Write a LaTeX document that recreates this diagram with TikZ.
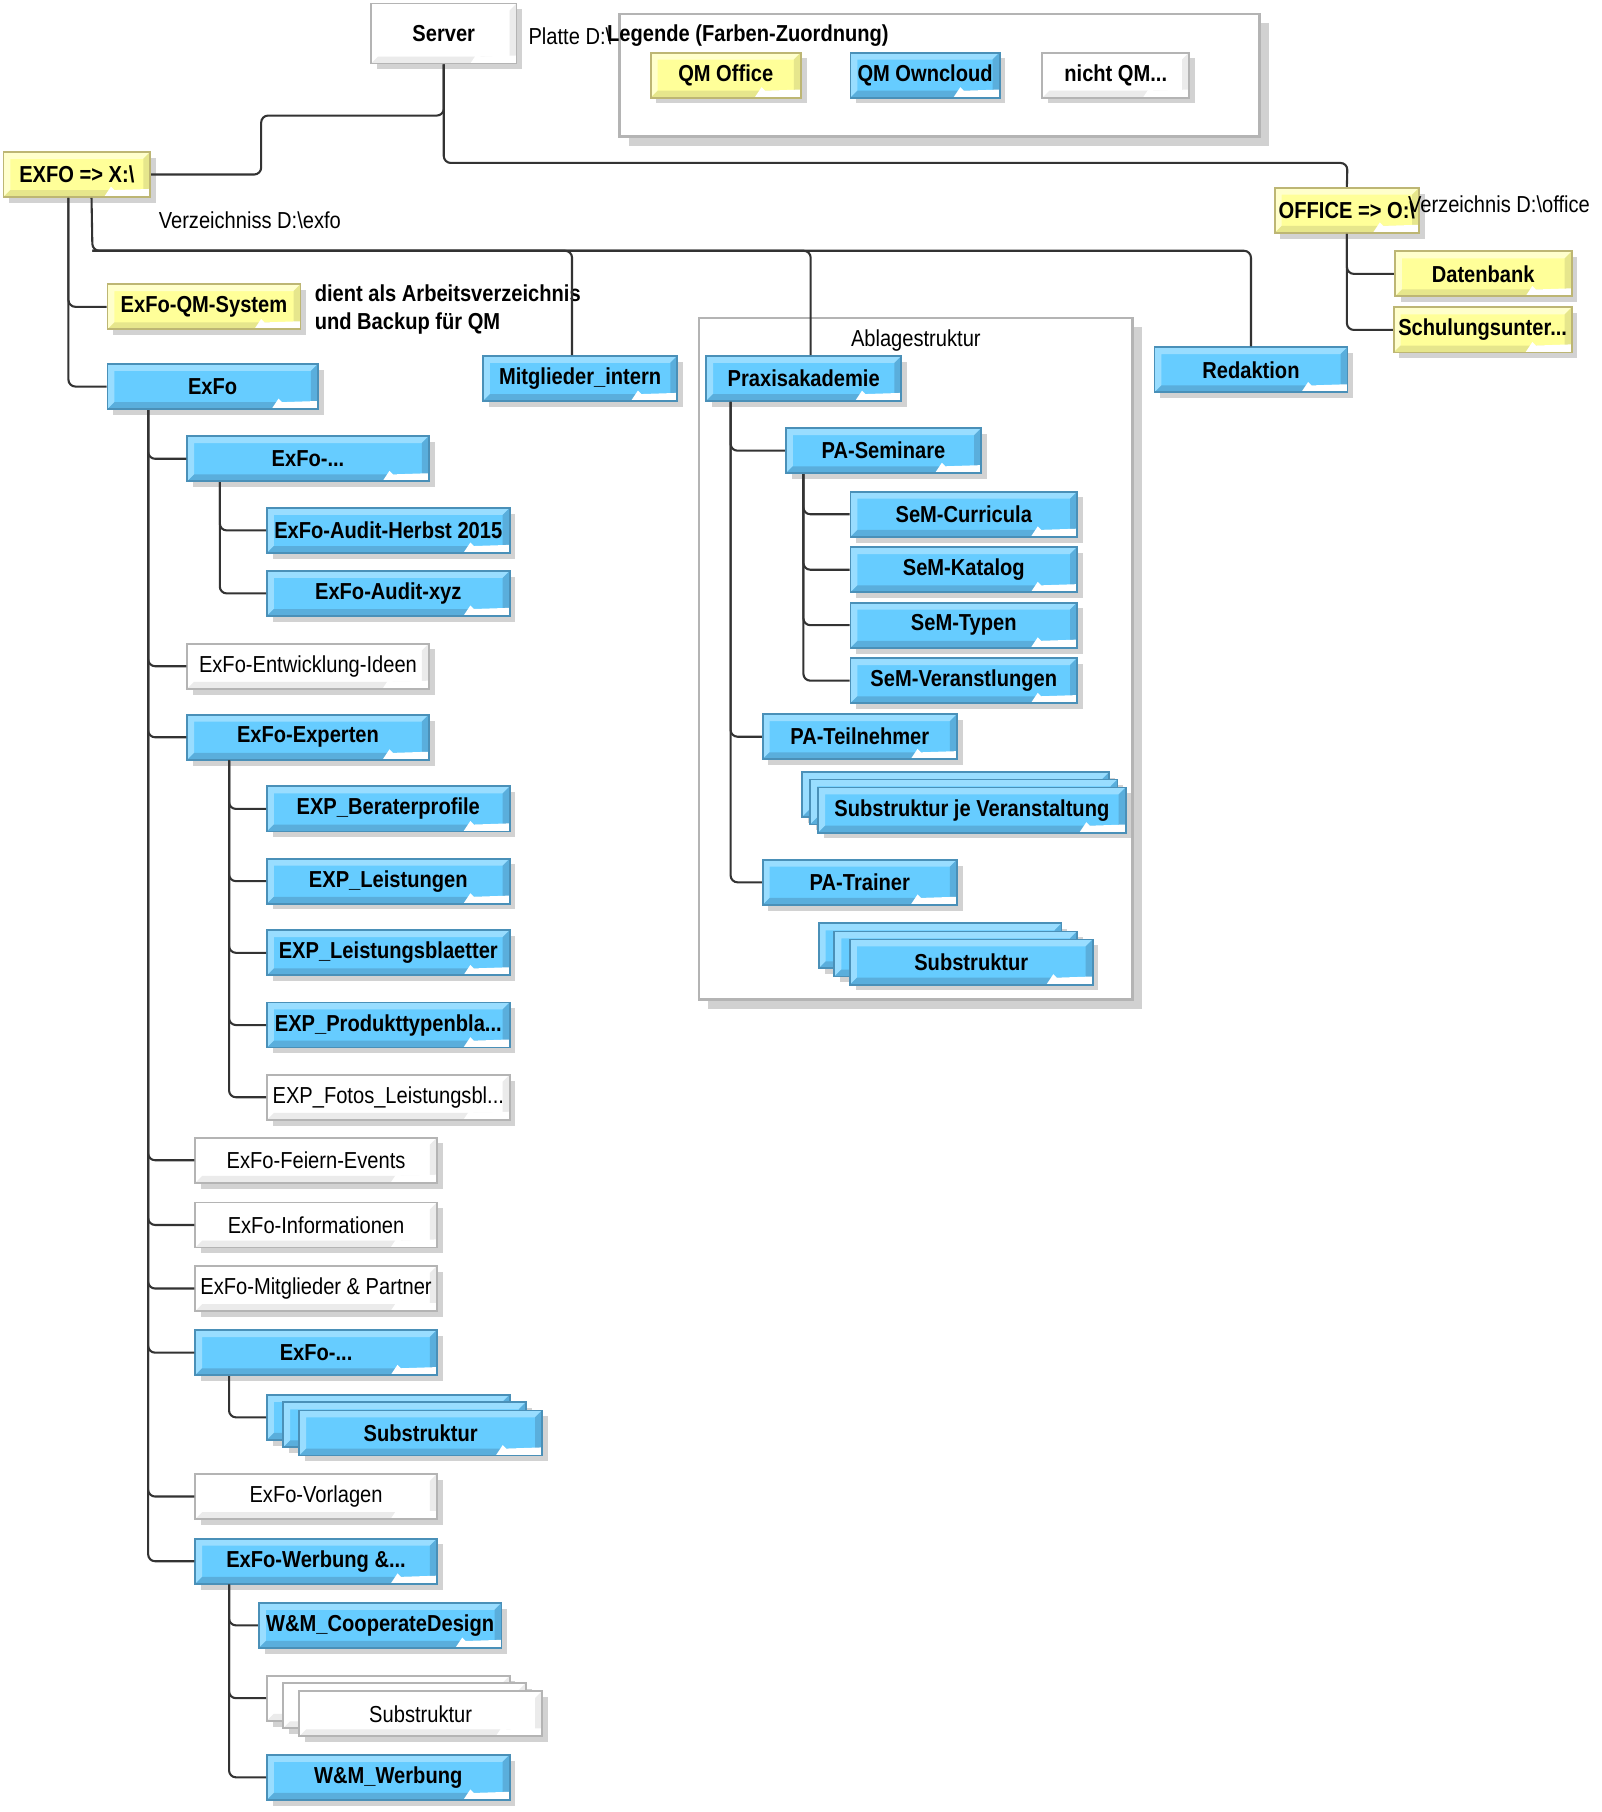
\documentclass[tikz,border=0pt]{standalone}
\usepackage{fontspec}
\setmainfont[FakeStretch=0.87]{Liberation Sans}
\usetikzlibrary{shadows}

\definecolor{qmblue}{HTML}{66CCFF}
\definecolor{qmbluelight}{HTML}{99DDFF}
\definecolor{qmbluedark}{HTML}{5AAEDC}
\definecolor{qmblueline}{HTML}{4A90B8}
\definecolor{qmyellow}{HTML}{FFFF99}
\definecolor{qmyellowlight}{HTML}{FFFFCC}
\definecolor{qmyellowdark}{HTML}{E6E68C}
\definecolor{qmyellowline}{HTML}{BDB674}
\definecolor{plainline}{HTML}{B4B4B4}
\definecolor{plaindark}{HTML}{EBEBEB}
\definecolor{conncol}{HTML}{333333}

% bevel + folded corner of a folder box
\newcommand{\bevel}[2]{%
  \fill[#1] (path picture bounding box.north west) -- (path picture bounding box.north east)
    -- ([xshift=-3pt,yshift=-3pt]path picture bounding box.north east)
    -- ([xshift=3pt,yshift=-3pt]path picture bounding box.north west)
    -- ([xshift=3pt,yshift=3pt]path picture bounding box.south west)
    -- (path picture bounding box.south west) -- cycle;
  \fill[#2] (path picture bounding box.south east) -- (path picture bounding box.north east)
    -- ([xshift=-3pt,yshift=-3pt]path picture bounding box.north east)
    -- ([xshift=-3pt,yshift=3pt]path picture bounding box.south east)
    -- ([xshift=3pt,yshift=3pt]path picture bounding box.south west)
    -- (path picture bounding box.south west) -- cycle;
  \fill[white] ([xshift=-20pt]path picture bounding box.south east)
    -- ([xshift=-17pt,yshift=4.5pt]path picture bounding box.south east)
    -- ([xshift=-15.5pt,yshift=3pt]path picture bounding box.south east)
    -- ([yshift=3.5pt]path picture bounding box.south east)
    -- (path picture bounding box.south east) -- cycle;
}

\begin{document}
\begin{tikzpicture}[x=0.5pt,y=-0.5pt]
  \tikzstyle{folder}=[rectangle, line width=0.8pt, minimum height=19.5pt, inner sep=1pt,
    font=\bfseries, drop shadow={shadow xshift=2.5pt, shadow yshift=-2.5pt, fill=black!35, opacity=0.5}]
  \tikzstyle{cloudbox}=[folder, fill=qmblue, draw=qmblueline, path picture={\bevel{qmbluelight}{qmbluedark}}]
  \tikzstyle{officebox}=[folder, fill=qmyellow, draw=qmyellowline, path picture={\bevel{qmyellowlight}{qmyellowdark}}]
  \tikzstyle{plainbox}=[folder, font=\normalfont, fill=white, draw=plainline, path picture={\bevel{white}{plaindark}}]
  \tikzstyle{frame}=[rectangle, draw=plainline, line width=1pt, fill=white,
    drop shadow={shadow xshift=4pt, shadow yshift=-4pt, fill=black!30, opacity=0.6}]
  \tikzstyle{note}=[inner sep=0pt, anchor=west]
  \tikzstyle{conn}=[draw=conncol, line width=0.9pt, rounded corners=3pt]

  \useasboundingbox (0,0) rectangle (1386,1568);

  % frames
  \node[frame, minimum width=277pt, minimum height=53pt] (legende) at (813,65) {};
  \node[frame, minimum width=187.5pt, minimum height=295pt] (ablage) at (792.5,570) {};

  % server and legend
  \node[plainbox, font=\bfseries, minimum width=63pt, minimum height=26pt] (server) at (384,29) {Server};
  \node[note] (platte) at (457,31) {Platte D:\textbackslash};
  \node[note, font=\bfseries] (legtitel) at (525,31) {Legende (Farben-Zuordnung)};
  \node[officebox, minimum width=65pt] (qmoffice) at (628,65) {QM Office};
  \node[cloudbox, minimum width=64.5pt] (qmcloud) at (800.5,65) {QM Owncloud};
  \node[plainbox, font=\bfseries, minimum width=63.5pt] (nichtqm) at (965.5,65) {nicht QM...};

  % drives
  \node[officebox, minimum width=63.5pt] (exfo) at (66.5,151) {EXFO => X:\textbackslash};
  \node[officebox, minimum width=62.5pt] (office) at (1165.5,182) {OFFICE => O:\textbackslash};
  \node[note] (officedir) at (1218,177) {Verzeichnis D:\textbackslash office};
  \node[officebox, minimum width=76.5pt] (datenbank) at (1283.5,237) {Datenbank};
  \node[officebox, minimum width=77pt] (schulung) at (1283,285.5) {Schulungsunter...};
  \node[cloudbox, minimum width=83.5pt] (redaktion) at (1082.5,320) {Redaktion};

  \node[note] (exfodir) at (137,191) {Verzeichniss D:\textbackslash exfo};
  \node[officebox, minimum width=83.5pt] (qmsystem) at (176.5,265.5) {ExFo-QM-System};
  \node[note, font=\bfseries, align=left, anchor=north west] (qmnote) at (272,246) {dient als Arbeitsverzeichnis\\ und Backup für QM};
  \node[cloudbox, minimum width=91pt] (exfonode) at (184,334.5) {ExFo};
  \node[cloudbox, minimum width=84pt] (mitglieder) at (502,327.5) {Mitglieder\_intern};

  % Praxisakademie
  \node[note] (ablagetitel) at (736,295) {Ablagestruktur};
  \node[cloudbox, minimum width=84.5pt] (praxis) at (695.5,327.5) {Praxisakademie};
  \node[cloudbox, minimum width=84.5pt] (seminare) at (764.5,390) {PA-Seminare};
  \node[cloudbox, minimum width=98pt] (curricula) at (834,445) {SeM-Curricula};
  \node[cloudbox, minimum width=98pt] (katalog) at (834,493) {SeM-Katalog};
  \node[cloudbox, minimum width=98pt] (typen) at (834,541) {SeM-Typen};
  \node[cloudbox, minimum width=98pt] (veranst) at (834,589) {SeM-Veranstlungen};
  \node[cloudbox, minimum width=84pt] (teilnehmer) at (744,637.5) {PA-Teilnehmer};
  \node[cloudbox, minimum width=133pt] (subVa) at (827,687.5) {};
  \node[cloudbox, minimum width=133pt] (subVb) at (834,694) {};
  \node[cloudbox, minimum width=133pt] (subVc) at (841,701) {Substruktur je Veranstaltung};
  \node[cloudbox, minimum width=84pt] (trainer) at (744,763.5) {PA-Trainer};
  \node[cloudbox, minimum width=105pt] (subTa) at (813.5,818.5) {};
  \node[cloudbox, minimum width=105pt] (subTb) at (827,825.5) {};
  \node[cloudbox, minimum width=105pt] (subTc) at (840.5,832.5) {Substruktur};

  % ExFo
  \node[cloudbox, minimum width=104.5pt] (exfoA) at (266.5,397) {ExFo-...};
  \node[cloudbox, minimum width=105pt] (herbst) at (336,459) {ExFo-Audit-Herbst 2015};
  \node[cloudbox, minimum width=105pt] (xyz) at (336,513.5) {ExFo-Audit-xyz};
  \node[plainbox, minimum width=104.5pt] (ideen) at (266.5,576.5) {ExFo-Entwicklung-Ideen};
  \node[cloudbox, minimum width=104.5pt] (experten) at (266.5,638) {ExFo-Experten};
  \node[cloudbox, minimum width=105pt] (berater) at (336,700) {EXP\_Beraterprofile};
  \node[cloudbox, minimum width=105pt] (leistungen) at (336,762.5) {EXP\_Leistungen};
  \node[cloudbox, minimum width=105pt] (blaetter) at (336,824.5) {EXP\_Leistungsblaetter};
  \node[cloudbox, minimum width=105pt] (produkt) at (336,887) {EXP\_Produkttypenbla...};
  \node[plainbox, minimum width=105pt] (fotos) at (336,949.5) {EXP\_Fotos\_Leistungsbl...};
  \node[plainbox, minimum width=104.5pt] (feiern) at (273.5,1004) {ExFo-Feiern-Events};
  \node[plainbox, minimum width=104.5pt] (infos) at (273.5,1060) {ExFo-Informationen};
  \node[plainbox, minimum width=104.5pt] (partner) at (273.5,1115) {ExFo-Mitglieder \& Partner};
  \node[cloudbox, minimum width=104.5pt] (exfoB) at (273.5,1170.5) {ExFo-...};
  \node[cloudbox, minimum width=105pt] (subBa) at (336,1226.5) {};
  \node[cloudbox, minimum width=105pt] (subBb) at (350,1233) {};
  \node[cloudbox, minimum width=105pt] (subBc) at (364,1240) {Substruktur};
  \node[plainbox, minimum width=104.5pt] (vorlagen) at (273.5,1295) {ExFo-Vorlagen};
  \node[cloudbox, minimum width=104.5pt] (werbung) at (273.5,1351) {ExFo-Werbung \&...};
  \node[cloudbox, minimum width=105pt] (cooperate) at (329,1406.5) {W\&M\_CooperateDesign};
  \node[plainbox, minimum width=105pt] (subWa) at (336,1469.5) {};
  \node[plainbox, minimum width=105pt] (subWb) at (350,1476) {};
  \node[plainbox, minimum width=105pt] (subWc) at (364,1483) {Substruktur};
  \node[cloudbox, minimum width=105pt] (wmwerbung) at (336,1538) {W\&M\_Werbung};

  % connectors
  \coordinate (srvknick) at (226,100);
  \coordinate (officebus) at (1166,141);
  \coordinate (exfobus) at (80,217);
  \draw[conn] (server.south) |- (srvknick) |- (exfo.east);
  \draw[conn] (server.south) |- (officebus) -- (office.north);
  \draw[conn] (office.south) |- (datenbank.west);
  \draw[conn] (office.south) |- (schulung.west);

  \draw[conn] ([xshift=28.5pt]exfo.south west) |- (qmsystem.west);
  \draw[conn] ([xshift=28.5pt]exfo.south west) |- (exfonode.west);
  \draw[conn] ([xshift=38.5pt]exfo.south west) -- (exfobus) -| ([xshift=-3.5pt]mitglieder.north);
  \draw[conn] (exfobus) -| ([xshift=3pt]praxis.north);
  \draw[conn] (exfobus) -| (redaktion.north);

  \draw[conn] ([xshift=11pt]praxis.south west) |- (seminare.west);
  \draw[conn] ([xshift=11pt]praxis.south west) |- (teilnehmer.west);
  \draw[conn] ([xshift=11pt]praxis.south west) |- (trainer.west);
  \draw[conn] ([xshift=8pt]seminare.south west) |- (curricula.west);
  \draw[conn] ([xshift=8pt]seminare.south west) |- (katalog.west);
  \draw[conn] ([xshift=8pt]seminare.south west) |- (typen.west);
  \draw[conn] ([xshift=8pt]seminare.south west) |- (veranst.west);

  \draw[conn] ([xshift=18pt]exfonode.south west) |- (exfoA.west);
  \draw[conn] ([xshift=18pt]exfonode.south west) |- (ideen.west);
  \draw[conn] ([xshift=18pt]exfonode.south west) |- (experten.west);
  \draw[conn] ([xshift=18pt]exfonode.south west) |- (feiern.west);
  \draw[conn] ([xshift=18pt]exfonode.south west) |- (infos.west);
  \draw[conn] ([xshift=18pt]exfonode.south west) |- (partner.west);
  \draw[conn] ([xshift=18pt]exfonode.south west) |- (exfoB.west);
  \draw[conn] ([xshift=18pt]exfonode.south west) |- (vorlagen.west);
  \draw[conn] ([xshift=18pt]exfonode.south west) |- (werbung.west);

  \draw[conn] ([xshift=14.5pt]exfoA.south west) |- (herbst.west);
  \draw[conn] ([xshift=14.5pt]exfoA.south west) |- (xyz.west);
  \draw[conn] ([xshift=18.5pt]experten.south west) |- (berater.west);
  \draw[conn] ([xshift=18.5pt]experten.south west) |- (leistungen.west);
  \draw[conn] ([xshift=18.5pt]experten.south west) |- (blaetter.west);
  \draw[conn] ([xshift=18.5pt]experten.south west) |- (produkt.west);
  \draw[conn] ([xshift=18.5pt]experten.south west) |- (fotos.west);
  \draw[conn] ([xshift=15pt]exfoB.south west) |- (subBa.west);
  \draw[conn] ([xshift=15pt]werbung.south west) |- (cooperate.west);
  \draw[conn] ([xshift=15pt]werbung.south west) |- (subWa.west);
  \draw[conn] ([xshift=15pt]werbung.south west) |- (wmwerbung.west);
\end{tikzpicture}
\end{document}
